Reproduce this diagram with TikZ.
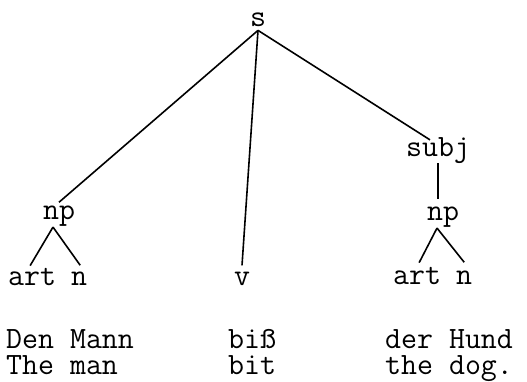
\documentclass[tikz,border=0pt]{standalone}
\begin{document}
\begin{tikzpicture}[x=1pt,y=-1pt,
  lbl/.style={inner sep=0pt,anchor=base,font=\fontsize{31}{36}\selectfont\ttfamily},
  lblw/.style={inner sep=0pt,anchor=base west,font=\fontsize{31}{36}\selectfont\ttfamily},
  edge/.style={line width=1.6pt}]
\useasboundingbox (0,0) rectangle (527,382);
% tree labels
\node[lbl] (s) at (258,27) {s};
\node[lbl] (npL) at (59,219) {np};
\node[lblw] (artL) at (8,285) {art};
\node[lblw] (nL) at (71,285) {n};
\node[lbl] (v) at (242,285) {v};
\node[lbl] (subj) at (438,157) {subj};
\node[lbl] (npR) at (443,220) {np};
\node[lblw] (artR) at (393,284) {art};
\node[lblw] (nR) at (456,284) {n};
% sentence rows
\node[lblw] (g1) at (6,348) {Den Mann};
\node[lblw] (e1) at (6,374) {The man};
\node[lblw] (g2) at (228,348) {biß};
\node[lblw] (e2) at (228,374) {bit};
\node[lblw] (g3) at (385,348) {der Hund};
\node[lblw] (e3) at (385,374) {the dog.};
% connectors (yshift > 0 moves up on the page)
\draw[edge] ([yshift=-3]s.south) -- ([yshift=3]npL.north);
\draw[edge] ([yshift=-3]s.south) -- ([yshift=6]v.north);
\draw[edge] ([yshift=-3]s.south) -- ([xshift=-8,yshift=-2]subj.north);
\draw[edge] ([yshift=1]subj.south) -- ([xshift=-5,yshift=7]npR.north);
\draw[edge] ([xshift=-6,yshift=-1]npL.south) -- ([xshift=-2,yshift=2]artL.north);
\draw[edge] ([xshift=-6,yshift=-1]npL.south) -- ([xshift=1,yshift=6]nL.north);
\draw[edge] ([xshift=-6,yshift=-1]npR.south) -- ([xshift=2,yshift=4]artR.north);
\draw[edge] ([xshift=-6,yshift=-1]npR.south) -- ([yshift=8]nR.north);
\end{tikzpicture}
\end{document}
